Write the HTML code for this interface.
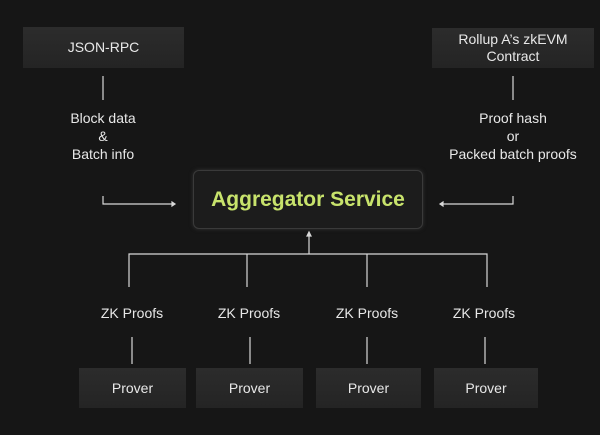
<!DOCTYPE html>
<html><head><style>
body{margin:0;width:600px;height:435px;background:#161616;font-family:"Liberation Sans",sans-serif;overflow:hidden;position:relative}
.b{position:absolute;background:linear-gradient(#2c2c2c,#242424);color:#e8e8e8;font-size:14px;display:flex;align-items:center;justify-content:center;text-align:center;line-height:17px}
.t{position:absolute;color:#e8e8e8;font-size:14px;text-align:center;width:160px;line-height:18px}
</style></head><body>
<div class="b" style="left:23px;top:27px;width:161px;height:41px">JSON-RPC</div>
<div class="b" style="left:432px;top:28px;width:162px;height:40px">Rollup A’s zkEVM<br>Contract</div>
<div class="t" style="left:23px;top:109px">Block data<br>&amp;<br>Batch info</div>
<div class="t" style="left:433px;top:109px">Proof hash<br>or<br>Packed batch proofs</div>
<div style="position:absolute;left:193px;top:170px;width:228px;height:57px;border:1px solid #3a3a3a;border-radius:6px;background:#1c1c1c;box-shadow:0 0 4px #333;color:#c8e36c;font-weight:bold;font-size:21px;display:flex;align-items:center;justify-content:center">Aggregator Service</div>
<div class="t" style="left:52px;top:304px">ZK Proofs</div>
<div class="t" style="left:169px;top:304px">ZK Proofs</div>
<div class="t" style="left:287px;top:304px">ZK Proofs</div>
<div class="t" style="left:404px;top:304px">ZK Proofs</div>
<div class="b" style="left:79px;top:368px;width:107px;height:40px">Prover</div>
<div class="b" style="left:196px;top:368px;width:107px;height:40px">Prover</div>
<div class="b" style="left:316px;top:368px;width:105px;height:40px">Prover</div>
<div class="b" style="left:434px;top:368px;width:104px;height:40px">Prover</div>
<svg width="600" height="435" style="position:absolute;left:0;top:0" fill="none" stroke="#d8d8d8" stroke-width="1.2">
<path d="M103 76V100M513 76V100"/>
<path d="M103 196V204H172M513 196V204H443"/>
<path d="M172 202L175 204L172 206Z M443 202L440 204L443 206Z M307 236L309 232L311 236Z" fill="#d8d8d8"/>
<path d="M309 234V254M129 287V254H487V287M247 254V287M367 254V287"/>
<path d="M132 337V364M250 337V364M367 337V364M485 337V364"/>
</svg>
</body></html>
